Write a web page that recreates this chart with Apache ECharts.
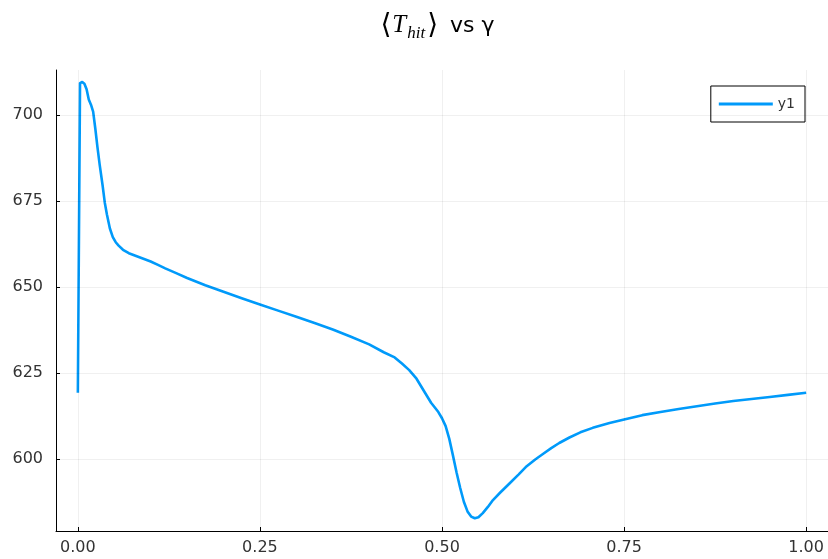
<!DOCTYPE html>
<html>
<head>
<meta charset="utf-8">
<script src="https://cdn.jsdelivr.net/npm/echarts@6/dist/echarts.min.js"></script>
<style>html,body{margin:0;padding:0;background:#fff}#c{width:828px;height:559px}</style>
</head>
<body>
<div id="c"></div>
<script>
const gamma = [0, 0.003, 0.006, 0.009, 0.012, 0.015, 0.018, 0.021, 0.024, 0.027, 0.030, 0.034, 0.037, 0.040, 0.044, 0.048, 0.052, 0.056, 0.062, 0.070, 0.080, 0.090, 0.100, 0.110, 0.120, 0.135, 0.150, 0.175, 0.200, 0.225, 0.250, 0.275, 0.300, 0.325, 0.350, 0.375, 0.400, 0.420, 0.435, 0.445, 0.455, 0.465, 0.475, 0.485, 0.495, 0.500, 0.505, 0.510, 0.515, 0.520, 0.525, 0.530, 0.535, 0.540, 0.545, 0.550, 0.556, 0.563, 0.570, 0.580, 0.593, 0.605, 0.615, 0.628, 0.640, 0.650, 0.661, 0.675, 0.690, 0.707, 0.730, 0.753, 0.775, 0.800, 0.825, 0.850, 0.875, 0.900, 0.925, 0.950, 0.975, 1.000];
const tHit = [619.2, 709.3, 709.6, 709.1, 707.5, 704.5, 703.0, 701.0, 696.0, 690.5, 685.5, 679.5, 674.5, 671.0, 667.0, 664.5, 663.0, 662.0, 660.8, 659.8, 659.0, 658.2, 657.4, 656.4, 655.4, 654.0, 652.6, 650.5, 648.6, 646.7, 644.9, 643.1, 641.3, 639.5, 637.6, 635.5, 633.3, 631.0, 629.5, 627.7, 625.8, 623.3, 619.8, 616.3, 613.6, 611.8, 609.5, 605.8, 601.0, 596.0, 591.5, 587.5, 584.7, 583.2, 582.7, 583.0, 584.2, 586.0, 588.0, 590.2, 592.9, 595.4, 597.6, 599.8, 601.6, 603.1, 604.6, 606.2, 607.7, 609.0, 610.4, 611.6, 612.7, 613.6, 614.5, 615.3, 616.1, 616.8, 617.4, 618.0, 618.6, 619.2];
const xTicks = [0, 0.25, 0.5, 0.75, 1.0];
const yTicks = [600, 625, 650, 675, 700];
const seriesName = 'y1';

const chart = echarts.init(document.getElementById('c'), null, {renderer: 'canvas'});
const gridColor = 'rgba(0,0,0,0.06)';
const vlines = xTicks.map(v => ({xAxis: v}));
const hlines = yTicks.map(v => ({yAxis: v}));
chart.setOption({
  animation: false,
  backgroundColor: '#fff',
  title: {
    text: '{p|⟨}{t|T}{s|hit}{p|⟩}{v| vs γ}',
    left: 432, top: 4, textAlign: 'center',
    textStyle: {
      fontWeight: 'normal',
      rich: {
        p: {fontFamily: 'DejaVu Serif', fontWeight: 'normal', fontSize: 28, color: '#000', padding: [0, 1, 0, 1]},
        t: {fontFamily: 'Liberation Serif', fontWeight: 'normal', fontStyle: 'italic', fontSize: 25, color: '#000', padding: [0, 1, 0, 0]},
        s: {fontFamily: 'Liberation Serif', fontWeight: 'normal', fontStyle: 'italic', fontSize: 17, color: '#000', padding: [16, 1, 0, 0]},
        v: {fontFamily: 'DejaVu Sans', fontWeight: 'normal', fontSize: 22, color: '#000', padding: [2, 0, 0, 4]}
      }
    }
  },
  grid: {left: 56, right: -1, top: 70, bottom: 28, containLabel: false},
  legend: {
    data: [{name: seriesName, icon: 'rect'}],
    right: 23, top: 86,
    itemWidth: 54, itemHeight: 3, itemGap: 8,
    padding: [11, 10, 11, 8],
    borderColor: '#000', borderWidth: 1, borderRadius: 0,
    backgroundColor: '#fff',
    textStyle: {fontFamily: 'DejaVu Sans', fontSize: 14, color: '#333'}
  },
  xAxis: {
    type: 'value', min: -0.03, max: 1.03,
    axisLine: {show: true, onZero: false, lineStyle: {color: '#000', width: 1}},
    axisTick: {show: true, inside: true, length: 4, customValues: xTicks, lineStyle: {color: '#000'}},
    axisLabel: {customValues: xTicks, formatter: v => v.toFixed(2), fontFamily: 'DejaVu Sans', fontSize: 16, color: '#333', margin: 9},
    splitLine: {show: false}
  },
  yAxis: {
    type: 'value', min: 579, max: 713.1,
    axisLine: {show: true, onZero: false, lineStyle: {color: '#000', width: 1}},
    axisTick: {show: true, inside: true, length: 4, customValues: yTicks, lineStyle: {color: '#000'}},
    axisLabel: {customValues: yTicks, formatter: v => String(v), fontFamily: 'DejaVu Sans', fontSize: 16, color: '#333', margin: 13},
    splitLine: {show: false}
  },
  series: [
    {
      type: 'line', name: '_grid', silent: true, data: [], z: 1,
      markLine: {
        silent: true, symbol: 'none', label: {show: false},
        lineStyle: {color: gridColor, width: 1, type: 'solid'},
        data: vlines.concat(hlines), animation: false
      }
    },
    {
      type: 'line', name: seriesName, z: 3,
      data: gamma.map((g, i) => [g, tHit[i]]),
      showSymbol: false, symbol: 'none', smooth: false,
      lineStyle: {color: '#009AFA', width: 2.6, join: 'round'},
      itemStyle: {color: '#009AFA'}
    }
  ]
});
</script>
</body>
</html>
